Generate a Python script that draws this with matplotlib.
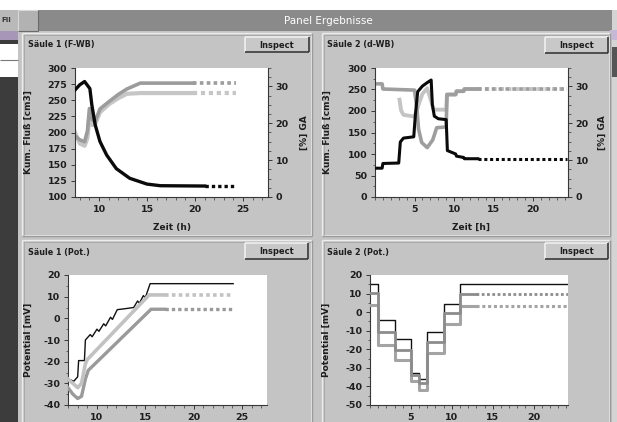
import numpy as np
import matplotlib
matplotlib.use("Agg")
import matplotlib.pyplot as plt
from matplotlib.patches import Rectangle
from matplotlib.ticker import MultipleLocator

plt.rcParams["axes.unicode_minus"] = False

# ---------------- texts ----------------
window_title = "Panel Ergebnisse"
panel_titles = ["Säule 1 (F-WB)", "Säule 2 (d-WB)", "Säule 1 (Pot.)", "Säule 2 (Pot.)"]
button_label = "Inspect"
flow_label = "Kum. Fluß [cm3]"
ga_label = "[%] GA"
pot_label = "Potential [mV]"
time_labels = ["Zeit (h)", "Zeit [h]"]

# ---------------- data: Säule 1 (F-WB) ----------------
s1_time_flow = [7.5, 8.0, 8.5, 9.05, 9.25, 9.6, 10.1, 10.8, 11.8, 13.2, 15.0, 16.4, 21.0, 24.3]
s1_flow = [266, 274, 279, 268, 243, 212, 186, 165, 144, 129, 120, 117.5, 117, 117]
s1_time_ga = [7.5, 8.0, 8.5, 8.8, 9.0, 9.3, 9.6, 10.1, 11.1, 12.0, 12.9, 14.3, 19.8, 24.3]
s1_ga_a = [16.6, 15.5, 15.0, 18.0, 24.0, 21.0, 20.5, 23.9, 26.0, 27.8, 29.3, 30.9, 30.9, 30.9]
s1_ga_b = [17.5, 14.5, 13.9, 16.0, 22.0, 19.5, 19.8, 23.0, 25.3, 26.8, 28.0, 28.2, 28.2, 28.2]

# ---------------- data: Säule 2 (d-WB) ----------------
s2_time_flow = [0, 0.9, 1.0, 3.0, 3.2, 3.6, 4.9, 5.1, 5.4, 6.0, 6.6, 7.1, 7.25, 7.5, 8.0, 9.0,
                9.15, 10.2, 10.3, 11.2, 11.3, 13.0, 24.3]
s2_flow = [67, 67, 78, 79, 128, 137, 140, 190, 245, 258, 266, 272, 215, 188, 182, 180,
           108, 100, 95, 92, 89, 89, 89]
s2_time_ga_a = [0, 0.9, 1.0, 5.0, 5.3, 5.5, 5.9, 6.6, 7.3, 7.8, 9.0, 9.1, 10.2, 10.3, 11.2, 11.3, 13.0, 24.3]
s2_ga_a = [30.7, 30.7, 29.3, 29.0, 24.0, 18.5, 14.8, 13.4, 15.5, 18.8, 19.0, 27.8, 27.8, 28.7, 28.7,
           29.3, 29.3, 29.3]
s2_time_ga_b = [3.1, 3.3, 3.6, 5.0, 5.5, 6.0, 6.6, 7.1, 7.4, 9.0, 9.1, 10.2, 10.3, 11.2, 11.3, 13.0, 24.3]
s2_ga_b = [26.4, 23.5, 22.3, 21.8, 25.0, 28.0, 29.5, 26.0, 23.7, 23.7, 27.8, 27.8, 28.7, 28.7,
           29.3, 29.3, 29.3]

# ---------------- data: Säule 1 (Pot.) ----------------
p1_time_a = [7.0, 7.6, 8.0, 8.1, 8.7, 8.8, 9.3, 9.5, 10.0, 10.2, 10.7, 10.9, 11.4, 11.6, 12.1,
             13.0, 13.8, 14.2, 14.4, 14.8, 15.0, 15.5, 24.1]
p1_pot_a = [-28, -29, -27, -19.5, -19.5, -10, -7.5, -8.5, -5, -6, -2.5, -3.5, 0.5, -0.5, 4,
            4.5, 5, 8, 7, 10.5, 9.5, 16, 16]
p1_time_b = [7.0, 7.5, 8.0, 8.4, 8.8, 9.0, 15.4, 17.0, 24.1]
p1_pot_b = [-28, -30, -32, -30, -21, -19, 10.8, 10.8, 10.8]
p1_time_c = [7.0, 7.5, 8.0, 8.4, 8.8, 9.1, 15.6, 17.0, 24.1]
p1_pot_c = [-32, -35, -37, -36, -28, -24, 4.2, 4.2, 4.2]

# ---------------- data: Säule 2 (Pot.) ----------------
p2_time = [0, 1, 3, 5, 6, 7, 9, 11, 13, 24.2]
p2_pot_a = [15.2, -4.2, -14.6, -33, -36, -10.5, 4.2, 15.2, 15.2, 15.2]
p2_pot_b = [10.1, -10.5, -20.4, -33.8, -38, -15.9, -0.6, 9.6, 9.6, 9.6]
p2_pot_c = [3.9, -17.7, -25.8, -37, -42, -22.2, -6.6, 3.5, 3.5, 3.5]

# ---------------- styles ----------------
W, H = 617, 422
FONT = dict(family="DejaVu Sans", fontweight="bold")
PANEL = "#c4c4c4"
TXT = "#1e1e1e"
TICK_FS = 6.8
LAB_FS = 6.5
DASH = (0, (1.0, 0.9))

fig = plt.figure(figsize=(W / 100, H / 100), dpi=100)
fig.patch.set_facecolor(PANEL)
bg = fig.add_axes([0, 0, 1, 1])
bg.set_xlim(0, W)
bg.set_ylim(H, 0)
bg.axis("off")


def rect(x0, y0, x1, y1, fc, ec="none", lw=0.0, z=1):
    bg.add_patch(Rectangle((x0, y0), x1 - x0, y1 - y0, facecolor=fc, edgecolor=ec,
                           linewidth=lw, zorder=z))


def hline(x0, x1, y, c, lw=0.8, z=3):
    bg.plot([x0, x1], [y, y], color=c, lw=lw, zorder=z, solid_capstyle="butt")


def vline(x, y0, y1, c, lw=0.8, z=3):
    bg.plot([x, x], [y0, y1], color=c, lw=lw, zorder=z, solid_capstyle="butt")


def bevel(x0, y0, x1, y1, light, dark, lw=0.8, z=3):
    hline(x0, x1, y0, light, lw, z)
    vline(x0, y0, y1, light, lw, z)
    hline(x0, x1, y1, dark, lw, z)
    vline(x1, y0, y1, dark, lw, z)


# window chrome
rect(0, 0, W, 10, "white")
rect(18, 31, 612, H, PANEL)
rect(18, 10, 612, 31, "#8a8a8a", z=2)
bg.text(328, 20.5, window_title, color="white", ha="center", va="center", fontsize=7.5,
        family="DejaVu Sans", zorder=4)
rect(0, 10, 18, H, "#3c3c3c", z=2)
rect(0, 10, 18, 31, "#b9b9b9", z=2)
rect(18, 10, 38, 31, "#b2b2b2", z=3)
bevel(18, 10, 38, 31, "#d8d8d8", "#6a6a6a", z=4)
rect(0, 31, 18, 40, "#a896b8", z=3)
rect(0, 44, 18, 77, "white", z=3)
hline(0, 18, 60, "#7a7a7a", 0.8, z=4)
bg.text(1, 20, "Fil", fontsize=5, color="#333333", va="center", zorder=4, **FONT)
rect(612, 10, W, H, "#d4d4d4", z=2)
rect(612, 47, W, 77, "#555555", z=3)
rect(610, 30, W, 40, "#c8b8d8", z=3)

# panels
panels = [(22, 33, 312, 236), (322, 33, 610, 236), (22, 240, 312, H + 5), (322, 240, 610, H + 5)]
for (x0, y0, x1, y1) in panels:
    bevel(x0, y0, x1, y1, "#ececec", "#9a9a9a", lw=1.0)
    bevel(x0 + 1.5, y0 + 1.5, x1 - 1.5, y1 - 1.5, "#a4a4a4", "#e4e4e4", lw=0.6)

title_pos = [(28, 45), (327, 45), (28, 252), (327, 252)]
for (tx, ty), t in zip(title_pos, panel_titles):
    bg.text(tx, ty, t, fontsize=5.8, color=TXT, va="center", ha="left", zorder=5, **FONT)

buttons = [(245, 37, 309, 52), (545, 37, 608, 53), (245, 243, 308, 259), (545, 243, 608, 259)]
for (x0, y0, x1, y1) in buttons:
    rect(x0, y0, x1, y1, "#c8c8c8", z=4)
    bevel(x0, y0, x1, y1, "#f4f4f4", "#2e2e2e", lw=1.1, z=5)
    bg.text((x0 + x1) / 2, (y0 + y1) / 2 + 0.5, button_label, fontsize=6, color=TXT,
            ha="center", va="center", zorder=6, **FONT)

bg.text(172, 227.5, time_labels[0], fontsize=6.5, color=TXT, ha="center", va="center", zorder=5, **FONT)
bg.text(471, 227.5, time_labels[1], fontsize=6.5, color=TXT, ha="center", va="center", zorder=5, **FONT)


def px_axes(x0, y0, x1, y1):
    return fig.add_axes([x0 / W, 1 - y1 / H, (x1 - x0) / W, (y1 - y0) / H])


def style(ax, left=True, right=False):
    ax.set_facecolor("white")
    for s in ("top", "left", "right", "bottom"):
        ax.spines[s].set_visible(False)
    ax.spines["bottom"].set_visible(True)
    if left:
        ax.spines["left"].set_visible(True)
    if right:
        ax.spines["right"].set_visible(True)
    for s in ax.spines.values():
        s.set_color("#383838")
        s.set_linewidth(0.8)
    ax.tick_params(which="major", length=3, width=0.7, color="#383838", labelsize=TICK_FS,
                   labelcolor=TXT, pad=2.5)
    ax.tick_params(which="minor", length=1.8, width=0.6, color="#505050")


def plot_split(ax, x, y, split, color, lw, z=3, ds="default"):
    x = np.asarray(x, float)
    y = np.asarray(y, float)
    m1 = x <= split
    m2 = x >= split
    ax.plot(x[m1], y[m1], color=color, lw=lw, zorder=z, drawstyle=ds, solid_joinstyle="round")
    ax.plot(x[m2], y[m2], color=color, lw=lw, zorder=z, drawstyle=ds, ls=DASH)


def bold_ticks(ax):
    for lab in ax.get_xticklabels() + ax.get_yticklabels():
        lab.set_fontweight("bold")


# ---------- panel 1 ----------
ax1 = px_axes(75, 68, 268, 197)
ax1r = ax1.twinx()
ax1.set_zorder(ax1r.get_zorder() + 1)
plot_split(ax1r, s1_time_ga, s1_ga_b, 19.8, "#c6c6c6", 3.0)
plot_split(ax1r, s1_time_ga, s1_ga_a, 19.8, "#9c9c9c", 2.6)
plot_split(ax1, s1_time_flow, s1_flow, 21.0, "#0a0a0a", 2.4)
ax1.set_xlim(7.5, 27.6)
ax1.set_ylim(100, 300)
ax1r.set_ylim(0, 35)
ax1.set_xticks([10, 15, 20, 25])
ax1.xaxis.set_minor_locator(MultipleLocator(1))
ax1.set_yticks(np.arange(100, 301, 25))
ax1r.set_yticks([0, 10, 20, 30])
ax1r.yaxis.set_minor_locator(MultipleLocator(2.5))
style(ax1, left=True)
style(ax1r, left=False, right=True)
ax1.patch.set_visible(False)
ax1r.patch.set_visible(True)
ax1r.patch.set_facecolor("white")
ax1r.spines["bottom"].set_visible(False)
ax1r.tick_params(axis="x", which="both", bottom=False, labelbottom=False)
ax1.set_ylabel(flow_label, fontsize=LAB_FS, color=TXT, fontweight="bold")
ax1.yaxis.set_label_coords(-0.218, 0.5)
ax1r.set_ylabel(ga_label, fontsize=LAB_FS, color=TXT, fontweight="bold", rotation=90)
ax1r.yaxis.set_label_coords(1.166, 0.5)
bold_ticks(ax1); bold_ticks(ax1r)

# ---------- panel 2 ----------
ax2 = px_axes(375, 68, 568, 197)
ax2r = ax2.twinx()
ax2.set_zorder(ax2r.get_zorder() + 1)
plot_split(ax2r, s2_time_ga_b, s2_ga_b, 13.0, "#c4c4c4", 2.8)
plot_split(ax2r, s2_time_ga_a, s2_ga_a, 13.0, "#9e9e9e", 2.6)
plot_split(ax2, s2_time_flow, s2_flow, 13.0, "#0a0a0a", 2.2)
ax2.set_xlim(0, 24.4)
ax2.set_ylim(0, 300)
ax2r.set_ylim(0, 35)
ax2.set_xticks([5, 10, 15, 20])
ax2.xaxis.set_minor_locator(MultipleLocator(1))
ax2.set_yticks(np.arange(0, 301, 50))
ax2.yaxis.set_minor_locator(MultipleLocator(25))
ax2r.set_yticks([0, 10, 20, 30])
ax2r.yaxis.set_minor_locator(MultipleLocator(2.5))
style(ax2, left=True)
style(ax2r, left=False, right=True)
ax2.patch.set_visible(False)
ax2r.patch.set_visible(True)
ax2r.patch.set_facecolor("white")
ax2r.spines["bottom"].set_visible(False)
ax2r.tick_params(axis="x", which="both", bottom=False, labelbottom=False)
ax2.set_ylabel(flow_label, fontsize=LAB_FS, color=TXT, fontweight="bold")
ax2.yaxis.set_label_coords(-0.223, 0.5)
ax2r.set_ylabel(ga_label, fontsize=LAB_FS, color=TXT, fontweight="bold", rotation=90)
ax2r.yaxis.set_label_coords(1.155, 0.5)
bold_ticks(ax2); bold_ticks(ax2r)

# ---------- panel 3 ----------
ax3 = px_axes(68, 275, 267, 405)
plot_split(ax3, p1_time_c, p1_pot_c, 17.0, "#9a9a9a", 2.4)
plot_split(ax3, p1_time_b, p1_pot_b, 17.0, "#c2c2c2", 2.6)
ax3.plot(p1_time_a, p1_pot_a, color="#111111", lw=1.0)
ax3.set_xlim(7.0, 27.6)
ax3.set_ylim(-40, 20)
ax3.set_xticks([10, 15, 20, 25])
ax3.xaxis.set_minor_locator(MultipleLocator(1))
ax3.set_yticks(np.arange(-40, 21, 10))
ax3.yaxis.set_minor_locator(MultipleLocator(5))
style(ax3, left=True)
ax3.set_ylabel(pot_label, fontsize=LAB_FS, color=TXT, fontweight="bold")
ax3.yaxis.set_label_coords(-0.176, 0.5)
bold_ticks(ax3)

# ---------- panel 4 ----------
ax4 = px_axes(370, 275, 568, 405)
plot_split(ax4, p2_time, p2_pot_c, 13.0, "#a4a4a4", 2.2, ds="steps-post")
plot_split(ax4, p2_time, p2_pot_b, 13.0, "#8c8c8c", 2.0, ds="steps-post")
ax4.plot(p2_time, p2_pot_a, color="#111111", lw=1.0, drawstyle="steps-post")
ax4.set_xlim(0, 24.2)
ax4.set_ylim(-50, 20)
ax4.set_xticks([5, 10, 15, 20])
ax4.xaxis.set_minor_locator(MultipleLocator(1))
ax4.set_yticks(np.arange(-50, 21, 10))
ax4.yaxis.set_minor_locator(MultipleLocator(5))
style(ax4, left=True)
ax4.set_ylabel(pot_label, fontsize=LAB_FS, color=TXT, fontweight="bold")
ax4.yaxis.set_label_coords(-0.2, 0.5)
bold_ticks(ax4)

fig.savefig("out.png", dpi=100, facecolor=fig.get_facecolor())
